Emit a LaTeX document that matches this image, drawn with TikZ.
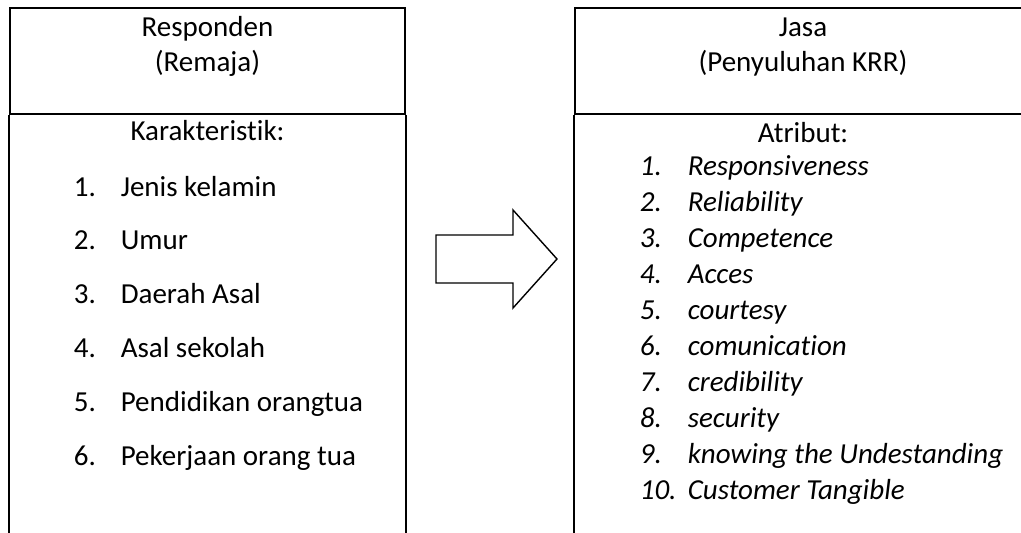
\documentclass[tikz,border=0pt]{standalone}
\usepackage{fontspec}
\setmainfont[Ligatures=NoCommon]{Carlito}
\usepackage{tikz}
\usetikzlibrary{positioning}

\begin{document}
\begin{tikzpicture}[
    x=1pt, y=-1pt,
    font=\fontsize{29}{35}\selectfont,
    line width=1.6pt,
    headbox/.style={
        draw,
        minimum width=395pt,
        minimum height=106pt,
        inner sep=0pt
    },
    title/.style={align=center, inner sep=0pt},
    item/.style={anchor=base west, inner sep=0pt},
    attr/.style={item, font=\fontsize{29}{35}\selectfont\itshape},
    bigarrow/.style={draw, line width=1.4pt, line join=miter}
]
\path[use as bounding box] (0,0) rectangle (1021,533);
\clip (0,0) rectangle (1021,533);

% left column: respondents
\node[headbox] (lhead) at (207.5,61) {};
\draw (lhead.south west) -- ++(0,440);
\draw (lhead.south east) -- ++(0,440);
\node[title, anchor=base] (ltitle) at (207.5,71) {Responden\\(Remaja)};
\node[title, anchor=base] (lsub) at (207.5,140) {Karakteristik:};
\foreach \txt [count=\i] in {Jenis kelamin, Umur, Daerah Asal, Asal sekolah,
    Pendidikan orangtua, Pekerjaan orang tua}
    \node[item] (litem\i) at (73,{196+53.8*(\i-1)}) {\makebox[47pt][l]{\i.}\txt};

% right column: service attributes
\node[headbox, minimum width=456pt] (rhead) at (803,61) {};
\draw (rhead.south west) -- ++(0,440);
\node[title, anchor=base] (rtitle) at (803,71) {Jasa\\(Penyuluhan KRR)};
\node[title, anchor=base] (rsub) at (803,142) {Atribut:};
\foreach \txt [count=\i] in {Responsiveness, Reliability, Competence, Acces,
    courtesy, comunication, credibility, security,
    knowing the Undestanding, Customer Tangible}
    \node[attr] (ritem\i) at (639,{175+36*(\i-1)}) {\makebox[48pt][l]{\i.}\txt};

% block arrow
\draw[bigarrow] (436,235) -- (513,235) -- (513,210) -- (557,259)
    -- (513,308) -- (513,283) -- (436,283) -- cycle;
\end{tikzpicture}
\end{document}
